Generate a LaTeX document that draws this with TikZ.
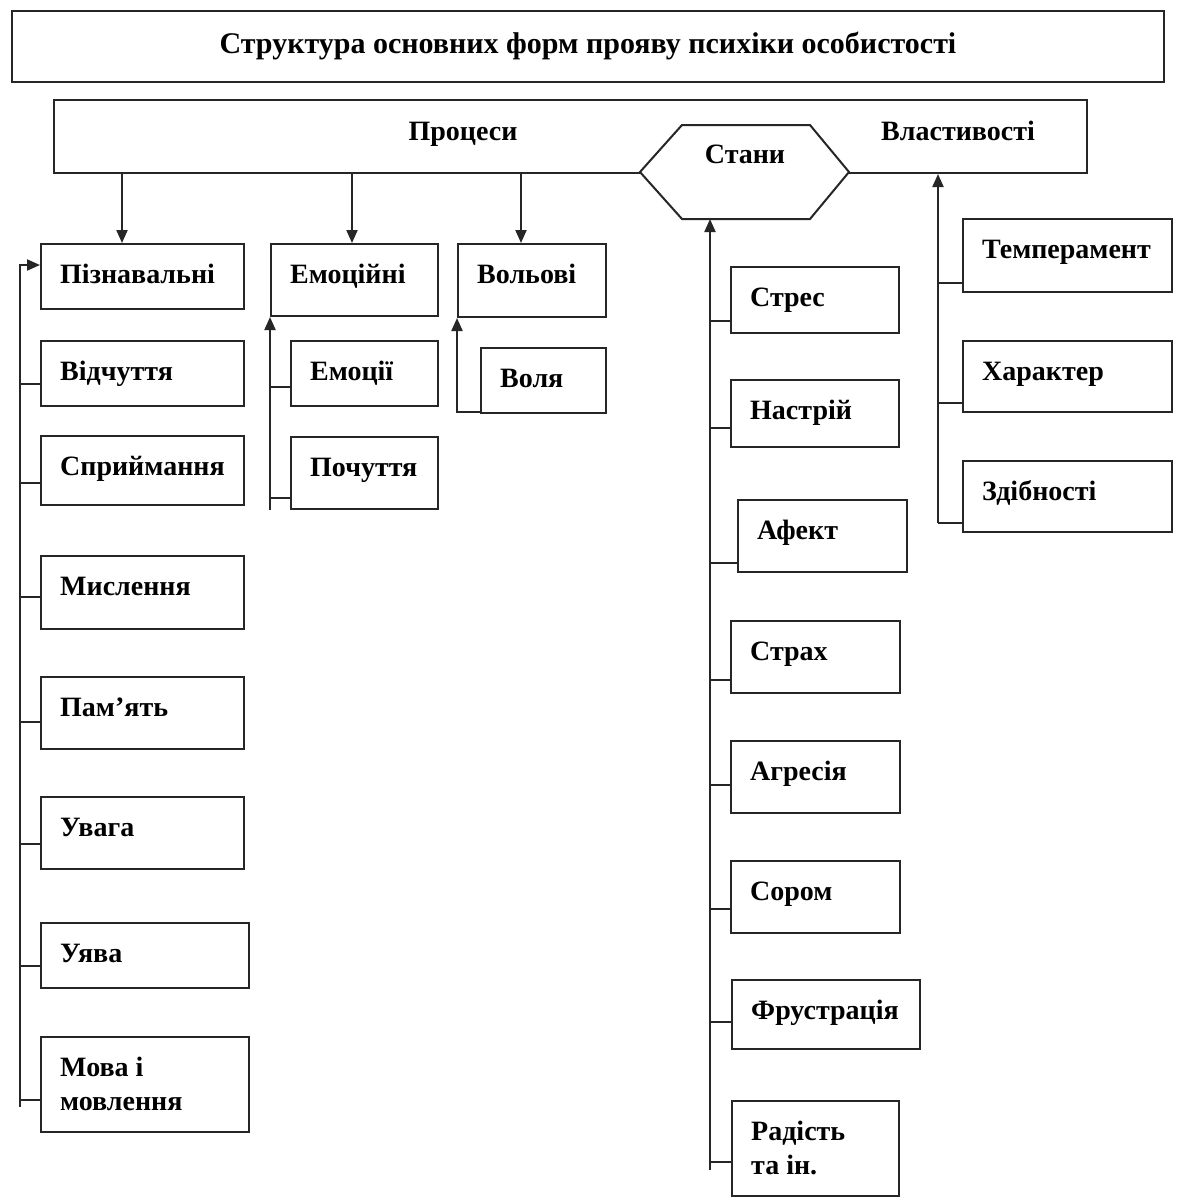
\documentclass[tikz,border=0pt]{standalone}
\usepackage{fontspec}
\setmainfont{Liberation Serif}
\usetikzlibrary{arrows.meta,calc}
\tikzset{
  box/.style={draw=black!85, line width=2pt, rectangle, inner sep=0pt, anchor=north west},
  lbl/.style={font=\fontsize{28}{34}\selectfont\bfseries, inner sep=0pt, anchor=base west},
  ln/.style={draw=black!85, line width=2pt},
  arr/.style={ln, -{Triangle[length=13pt,width=11pt]}},
}
\newcommand\bx[6]{%
  \node[box, minimum width={(#4)-(#2)}, minimum height={(#5)-(#3)}] (#1) at (#2,#3) {};
  \node[lbl] (#1t) at ([xshift=20pt,yshift=-40pt]#1.north west) {#6};
}
\begin{document}
\begin{tikzpicture}[x=1pt,y=-1pt]
\useasboundingbox[fill=white] (0,0) rectangle (1182,1197);
% title
\node[box, minimum width=1152, minimum height=71] (title) at (11,10) {};
\node[font=\fontsize{30}{34}\selectfont\bfseries, inner sep=0pt, anchor=base] (titlet) at (588,53) {Структура основних форм прояву психіки особистості};
% bar
\node[box, minimum width=1033, minimum height=73] (bar) at (53,99) {};
\node[lbl, anchor=base] (proc) at (463,140) {Процеси};
\node[lbl] (vlast) at (881,140) {Властивості};
\draw[ln, fill=white] (640,172) -- (682,125) -- (810,125) -- (849,172) -- (810,219) -- (682,219) -- cycle;
\node[lbl, anchor=base] (stany) at (745,163) {Стани};
\coordinate (hexb) at (710,219);
% left column
\bx{piz}{40}{243}{243}{308}{Пізнавальні}
\bx{vid}{40}{340}{243}{405}{Відчуття}
\bx{spr}{40}{435}{243}{504}{Сприймання}
\bx{mys}{40}{555}{243}{628}{Мислення}
\bx{pam}{40}{676}{243}{748}{Пам’ять}
\bx{uva}{40}{796}{243}{868}{Увага}
\bx{uyava}{40}{922}{248}{987}{Уява}
\bx{mova}{40}{1036}{248}{1131}{\parbox[t]{200pt}{Мова і\\мовлення}}
% emotions
\bx{emo}{270}{243}{437}{315}{Емоційні}
\bx{emoc}{290}{340}{437}{405}{Емоції}
\bx{poch}{290}{436}{437}{508}{Почуття}
% volition
\bx{vol}{457}{243}{605}{316}{Вольові}
\bx{volya}{480}{347}{605}{412}{Воля}
% states
\bx{stres}{730}{266}{898}{332}{Стрес}
\bx{nast}{730}{379}{898}{446}{Настрій}
\bx{afekt}{737}{499}{906}{571}{Афект}
\bx{strakh}{730}{620}{899}{692}{Страх}
\bx{agr}{730}{740}{899}{812}{Агресія}
\bx{sorom}{730}{860}{899}{932}{Сором}
\bx{frus}{731}{979}{919}{1048}{Фрустрація}
\bx{rad}{731}{1100}{898}{1195}{\parbox[t]{150pt}{Радість\\та ін.}}
% properties
\bx{temp}{962}{218}{1171}{291}{Темперамент}
\bx{khar}{962}{340}{1171}{411}{Характер}
\bx{zdib}{962}{460}{1171}{531}{Здібності}
% arrows down from bar
\coordinate (a1) at ([xshift=82pt]piz.north west);
\coordinate (a2) at ([xshift=82pt]emo.north west);
\coordinate (a3) at ([xshift=64pt]vol.north west);
\draw[arr] (a1 |- bar.south) -- (a1);
\draw[arr] (a2 |- bar.south) -- (a2);
\draw[arr] (a3 |- bar.south) -- (a3);
% left spine
\coordinate (lsp) at (20,1107);
\draw[arr] (lsp) |- ([yshift=-22pt]piz.north west);
\foreach \n/\y in {vid/384, spr/483, mys/597, pam/722, uva/844, uyava/966, mova/1100}
  \draw[ln] (\n.west |- 0,\y) -- (lsp |- 0,\y);
% emotions spine
\coordinate (esp) at (emo.west |- poch.south);
\draw[arr] (esp) -- (emo.south west);
\foreach \n/\y in {emoc/387, poch/498}
  \draw[ln] (\n.west |- 0,\y) -- (esp |- 0,\y);
% volition
\draw[arr] ([yshift=2pt]volya.south west) -| (vol.south west);
% states spine
\coordinate (ssp) at (710,1170);
\draw[arr] (ssp) -- (hexb);
\foreach \n/\y in {stres/321, nast/428, afekt/563, strakh/680, agr/785, sorom/909, frus/1022, rad/1162}
  \draw[ln] (\n.west |- 0,\y) -- (ssp |- 0,\y);
% properties spine
\coordinate (psp) at (938,523);
\draw[arr] (psp) -- (psp |- bar.south);
\foreach \n/\y in {temp/283, khar/403, zdib/523}
  \draw[ln] (\n.west |- 0,\y) -- (psp |- 0,\y);
\end{tikzpicture}
\end{document}
